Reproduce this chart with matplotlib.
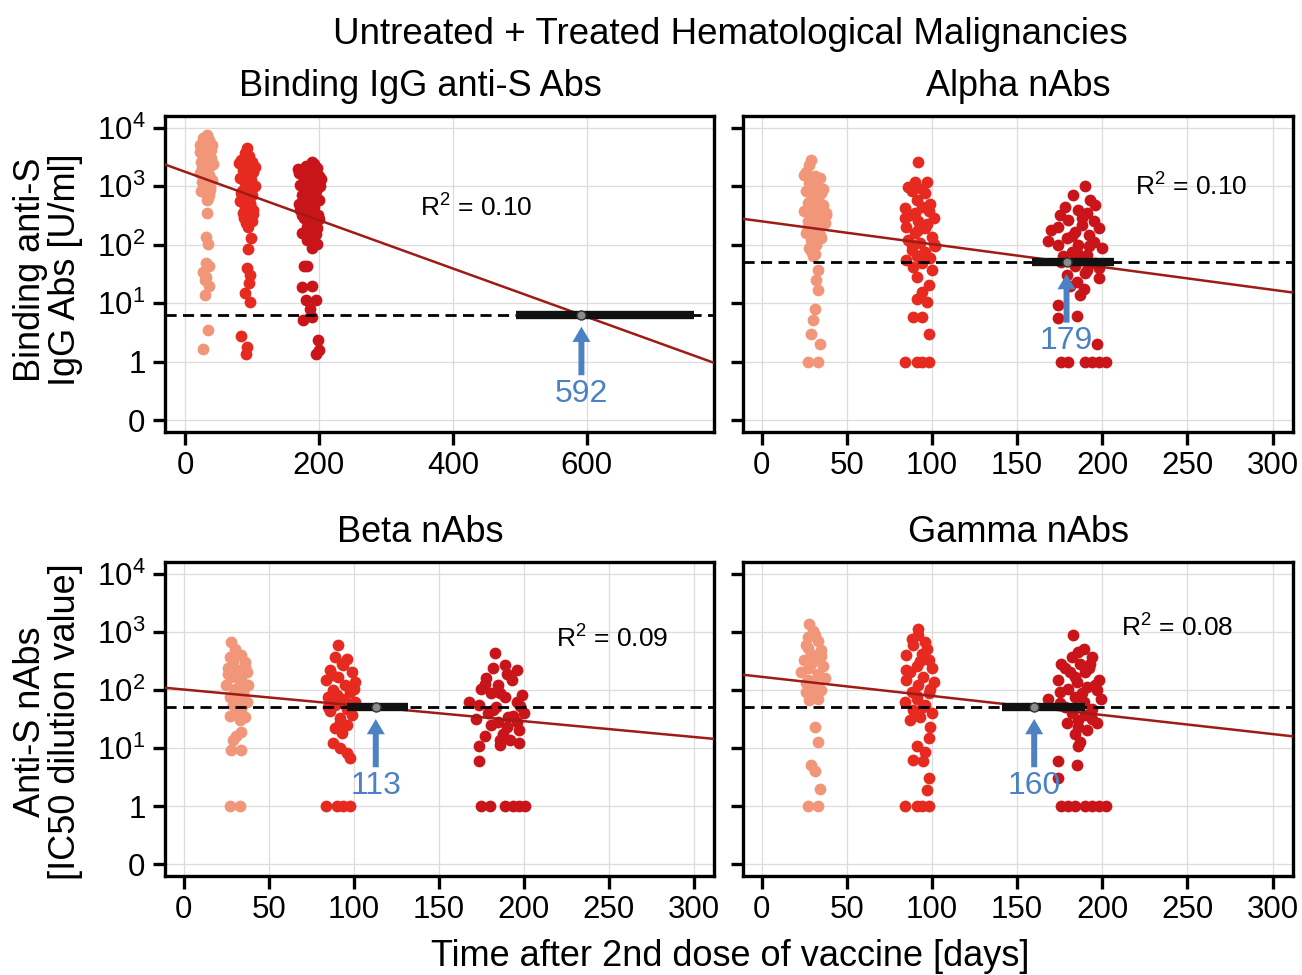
import matplotlib
matplotlib.use('Agg')
import matplotlib.pyplot as plt
import numpy as np

plt.rcParams['font.family'] = ['Liberation Sans', 'DejaVu Sans']
plt.rcParams['mathtext.fontset'] = 'custom'
plt.rcParams['mathtext.rm'] = 'Liberation Sans'

##########
## DATA ##
##########
# days after 2nd dose / log10 titer (value 1 -> 0, the "0" tick sits at -1)

# Binding IgG anti-S Abs
igg_g1_day = [32,27,36,25,40,30,22,35,27,39,24,32,37,26,31,22,36,29,40,25,33,28,37,31,34,32,32,31,34,31,35,27,31,29,35,29,34,27,
              23,38,28,34,41,26,33,30,37,24,35,29]
igg_g1_log = [3.88,3.82,3.79,3.74,3.71,3.65,3.59,3.57,3.51,3.48,3.42,3.39,3.34,3.31,3.25,3.22,3.20,3.14,3.11,3.08,3.02,2.97,2.94,2.88,2.80,2.77,2.54,2.13,2.01,1.69,1.63,1.54,1.45,1.40,1.30,1.14,0.55,0.21,
              3.70,3.62,3.55,3.45,3.38,3.28,3.18,3.05,2.99,2.92,2.85,3.35]
igg_g2_day = [92,89,96,84,100,90,97,86,102,92,82,99,89,104,94,85,100,91,82,97,89,102,86,95,100,91,99,94,92,97,95,89,97,84,92,91,
              80,95,104,87,93,99,83,90,97,101,88,94]
igg_g2_log = [3.65,3.57,3.51,3.45,3.42,3.37,3.31,3.28,3.25,3.20,3.14,3.11,3.05,3.00,2.97,2.91,2.85,2.80,2.74,2.71,2.65,2.60,2.54,2.48,2.40,2.37,2.11,1.92,1.60,1.48,1.34,1.17,1.03,0.44,0.26,0.14,
              3.40,3.46,3.33,3.18,3.08,2.95,2.88,2.76,2.68,2.52,2.45,2.30]
igg_g3_day = [190,180,197,170,187,200,177,192,172,202,182,195,175,187,200,180,192,172,185,199,177,190,182,197,175,190,182,197,190,177,182,175,189,181,196,187,176,190,199,196,200,
              168,185,203,178,194,170,188,200,183,174,196,186,179,192]
igg_g3_log = [3.41,3.34,3.31,3.22,3.22,3.17,3.14,3.08,3.02,3.00,2.97,2.91,2.85,2.80,2.77,2.71,2.65,2.60,2.54,2.51,2.45,2.40,2.31,2.28,2.20,2.17,2.08,2.02,1.94,1.64,1.64,1.28,1.30,1.05,1.05,0.91,0.72,0.76,0.38,0.14,0.20,
              3.30,3.25,3.12,3.05,2.88,2.70,2.62,2.44,2.36,2.50,2.18,2.25,2.90,3.38]

# Alpha nAbs
alp_g1_day = [29,28,26,31,34,28,32,26,35,30,33,27,36,31,25,38,29,34,27,32,37,30,26,34,29,32,28,31,30,33,32,33,31,30,29,34,27,33,
              25,30,36,28,33,38,27,31,35,29]
alp_g1_log = [3.45,3.37,3.25,3.17,3.14,3.05,2.97,2.91,2.88,2.82,2.77,2.71,2.68,2.62,2.57,2.54,2.48,2.45,2.40,2.34,2.37,2.25,2.20,2.17,2.08,2.00,1.94,1.85,1.80,1.57,1.40,1.23,0.91,0.71,0.48,0.30,0.0,0.0,
              3.20,3.10,2.95,2.73,2.60,2.50,2.30,2.27,2.12,1.90]
alp_g2_day = [92,90,97,88,96,91,84,94,98,87,101,92,85,96,90,100,86,93,102,88,96,91,99,85,94,100,91,98,94,91,97,89,94,98,84,91,94,98,
              86,94,99,90,84,97,92,88,101,95,89]
alp_g2_log = [3.42,3.08,3.08,2.91,2.88,2.77,2.62,2.65,2.57,2.51,2.45,2.40,2.31,2.28,2.20,2.14,2.08,2.03,1.97,1.91,1.88,1.80,1.77,1.74,1.68,1.57,1.45,1.31,1.20,1.08,1.03,0.77,0.77,0.48,0.0,0.0,0.0,0.0,
              2.98,2.95,2.70,2.55,2.45,2.35,2.25,2.00,2.02,1.85,1.62]
alp_g3_day = [190,183,193,196,186,175,191,180,188,174,198,184,192,168,179,195,186,174,200,182,191,177,188,196,184,191,179,198,185,189,187,174,174,185,197,176,180,190,194,198,202,
              178,188,195,170,182,192,186,176,198,190,181]
alp_g3_log = [3.00,2.85,2.77,2.68,2.60,2.51,2.54,2.42,2.34,2.31,2.28,2.22,2.17,2.06,2.11,2.05,2.00,2.00,1.94,1.88,1.82,1.80,1.74,1.68,1.63,1.57,1.48,1.43,1.37,1.25,1.14,0.97,0.74,0.79,0.30,0,0,0,0,0,0,
              2.65,2.45,2.40,2.25,2.15,1.98,1.85,1.70,1.60,1.52,1.30]

# Beta nAbs
bet_g1_day = [28,30,27,34,29,36,26,32,37,28,34,25,38,30,35,27,33,37,29,34,31,36,33,34,31,29,28,34,27,33,
              30,36,26,33,29,35,31,27]
bet_g1_log = [2.82,2.71,2.57,2.60,2.48,2.48,2.37,2.34,2.31,2.23,2.20,2.08,2.08,2.02,1.97,1.88,1.85,1.80,1.74,1.68,1.60,1.54,1.48,1.28,1.20,1.14,0.97,0.97,0,0,
              2.65,2.40,2.28,2.15,1.92,1.75,1.65,1.55]
bet_g2_day = [91,89,96,94,86,99,91,84,101,95,88,98,85,93,101,89,96,86,99,92,96,89,93,88,92,96,98,84,90,94,98,
              93,87,100,90,96,85,92]
bet_g2_log = [2.78,2.57,2.54,2.43,2.34,2.31,2.23,2.17,2.14,2.08,2.00,1.97,1.88,1.85,1.80,1.74,1.68,1.63,1.57,1.51,1.40,1.34,1.26,1.08,1.00,0.91,0.83,0,0,0,0,
              2.45,2.25,2.02,1.92,1.77,1.70,1.45]
bet_g3_day = [183,182,189,196,178,193,185,175,199,181,189,168,196,174,184,200,179,191,185,196,181,190,197,177,186,192,174,186,197,174,175,180,189,194,197,201,
              190,177,186,198,182,194,172,188]
bet_g3_log = [2.64,2.37,2.43,2.34,2.20,2.17,2.08,2.02,1.91,1.94,1.88,1.80,1.80,1.74,1.71,1.60,1.60,1.54,1.45,1.45,1.40,1.37,1.31,1.20,1.14,1.14,1.03,1.06,1.08,0.77,0,0,0,0,0,0,
              2.28,2.10,1.95,1.72,1.65,1.55,1.50,1.25]

# Gamma nAbs
gam_g1_day = [28,30,27,33,26,35,29,32,25,36,28,23,33,37,27,31,35,26,30,33,28,31,33,29,31,34,27,33,
              31,27,35,29,33,26,30]
gam_g1_log = [3.14,3.02,2.91,2.85,2.77,2.68,2.62,2.54,2.51,2.42,2.37,2.31,2.28,2.20,2.17,2.08,2.00,1.97,1.91,1.85,1.83,1.37,1.11,0.71,0.60,0.30,0,0,
              2.95,2.72,2.58,2.45,2.25,2.12,1.95]
gam_g2_day = [92,92,96,89,85,94,98,91,87,100,95,85,92,101,88,98,91,84,96,89,100,93,87,99,98,91,96,89,95,98,97,84,91,94,98,
              88,97,93,85,99,91,95]
gam_g2_log = [3.05,2.94,2.82,2.77,2.60,2.62,2.51,2.42,2.31,2.37,2.22,2.17,2.08,2.14,1.97,1.94,1.85,1.80,1.74,1.65,1.60,1.54,1.48,1.37,1.17,1.03,0.94,0.80,0.77,0.48,0.28,0,0,0,0,
              2.88,2.70,2.50,2.35,2.02,1.90,1.70]
gam_g3_day = [183,189,186,194,182,176,187,193,181,190,198,174,185,191,180,197,168,175,184,199,189,178,194,182,190,197,179,186,191,184,187,186,174,185,174,176,180,184,190,194,198,202,
              178,192,184,196,188,175,182,194,186]
gam_g3_log = [2.94,2.71,2.65,2.57,2.57,2.45,2.45,2.45,2.31,2.31,2.17,2.17,2.14,2.05,2.02,2.00,1.85,1.97,1.88,1.85,1.80,1.71,1.68,1.60,1.57,1.43,1.43,1.37,1.31,1.25,1.11,1.03,0.77,0.71,0.48,0,0,0,0,0,0,0,
              2.38,2.38,2.22,2.08,1.95,1.78,1.65,1.50,1.48]

# fit results per panel: intercept, slope (log10/day), threshold, crossing day, CI, R2
fit_icpt   = [3.247, 2.40, 2.007, 2.225]
fit_slope  = [-0.004133, -0.0039, -0.00272, -0.00328]
thresholds = [0.80, 1.70, 1.70, 1.70]
cross_day  = [592, 179, 113, 160]
ci_low     = [494, 159, 96, 141]
ci_high    = [760, 207, 132, 190]
r2_values  = [0.10, 0.10, 0.09, 0.08]
r2_day     = [351, 219, 219, 211]
r2_log     = [2.63, 2.99, 2.87, 3.06]

titles = ['Binding IgG anti-S Abs', 'Alpha nAbs', 'Beta nAbs', 'Gamma nAbs']
ytick_pos = [-1, 0, 1, 2, 3, 4]
ytick_lab = ['0', '1', '$\\mathregular{10^1}$', '$\\mathregular{10^2}$', '$\\mathregular{10^3}$', '$\\mathregular{10^4}$']

####################
## PLOT SETTINGS  ##
####################
colors = ['#F2967A', '#E62A20', '#C9141A']
line_col = '#9E1B16'
blue = '#4C82C3'

W, H = 1302., 975.
fig = plt.figure(figsize=(W/100, H/100), dpi=100)

# axes boxes in pixels (left, top, right, bottom)
boxes = [(165, 116, 714, 432), (743, 116, 1293, 432),
         (165, 562, 714, 876), (743, 562, 1293, 876)]
xlims = [(-30, 790), (-11, 312), (-11, 312), (-11, 312)]
xticks = [[0, 200, 400, 600], [0, 50, 100, 150, 200, 250, 300],
          [0, 50, 100, 150, 200, 250, 300], [0, 50, 100, 150, 200, 250, 300]]
groups = [[(igg_g1_day, igg_g1_log), (igg_g2_day, igg_g2_log), (igg_g3_day, igg_g3_log)],
          [(alp_g1_day, alp_g1_log), (alp_g2_day, alp_g2_log), (alp_g3_day, alp_g3_log)],
          [(bet_g1_day, bet_g1_log), (bet_g2_day, bet_g2_log), (bet_g3_day, bet_g3_log)],
          [(gam_g1_day, gam_g1_log), (gam_g2_day, gam_g2_log), (gam_g3_day, gam_g3_log)]]
title_x = [420, 1018, 420, 1019]
title_y = [87, 87, 532, 532]

for i in range(4):
    l, t, r, b = boxes[i]
    ax = fig.add_axes([l/W, 1-b/H, (r-l)/W, (b-t)/H])

    ## points
    for (d, v), c in zip(groups[i], colors):
        ax.scatter(d, v, s=72, color=c, linewidths=0, zorder=3)

    ## regression line + threshold
    xx = np.array(xlims[i])
    ax.plot(xx, fit_icpt[i] + fit_slope[i]*xx, color=line_col, lw=1.8, zorder=4)
    ax.axhline(thresholds[i], color='k', lw=2.0, ls=(0, (4.0, 2.3)), zorder=5)
    ax.plot([ci_low[i], ci_high[i]], [thresholds[i]]*2, color='#111111', lw=6,
            solid_capstyle='butt', zorder=6)
    ax.plot([cross_day[i]], [thresholds[i]], 'o', ms=6.5, mfc='#8c8c8c', mec='#333333',
            mew=1, zorder=7)

    ## arrow and crossing day
    ax.annotate('', xy=(cross_day[i], thresholds[i]-0.2), xytext=(cross_day[i], thresholds[i]-1.03),
                arrowprops=dict(fc=blue, ec='none', width=4.3, headwidth=13, headlength=11, shrink=0),
                zorder=8)
    ax.text(cross_day[i], thresholds[i]-1.35, str(cross_day[i]), color=blue, fontsize=23,
            ha='center', va='center', zorder=9)
    ax.text(r2_day[i], r2_log[i], '$\\mathregular{R^2}$ = %.2f' % r2_values[i], fontsize=19,
            ha='left', va='center', zorder=9)

    ## formatting
    ax.set_xlim(xlims[i])
    ax.set_ylim(-1.2, 4.2)
    ax.set_xticks(xticks[i])
    ax.set_yticks(ytick_pos)
    if i % 2 == 0:
        ax.set_yticklabels(ytick_lab)
    else:
        ax.set_yticklabels([])
    ax.tick_params(direction='out', length=9, width=2.4, labelsize=22.5, pad=5)
    for s in ax.spines.values():
        s.set_linewidth(2.4)
    ax.grid(color='#dcdcdc', lw=0.9)
    ax.set_axisbelow(True)

    fig.text(title_x[i]/W, 1-title_y[i]/H, titles[i], fontsize=26, ha='center', va='center')

fig.text(730/W, 1-35/H, 'Untreated + Treated Hematological Malignancies', fontsize=26.5,
         ha='center', va='center')
fig.text(48/W, 1-270/H, 'Binding anti-S\nIgG Abs [U/ml]', fontsize=26, rotation=90,
         ha='center', va='center', multialignment='center', linespacing=1.0)
fig.text(48/W, 1-722/H, 'Anti-S nAbs\n[IC50 dilution value]', fontsize=26, rotation=90,
         ha='center', va='center', multialignment='center', linespacing=1.0)
fig.text(730/W, 1-957/H, 'Time after 2nd dose of vaccine [days]', fontsize=26,
         ha='center', va='center')

fig.savefig('out.png', dpi=100)
